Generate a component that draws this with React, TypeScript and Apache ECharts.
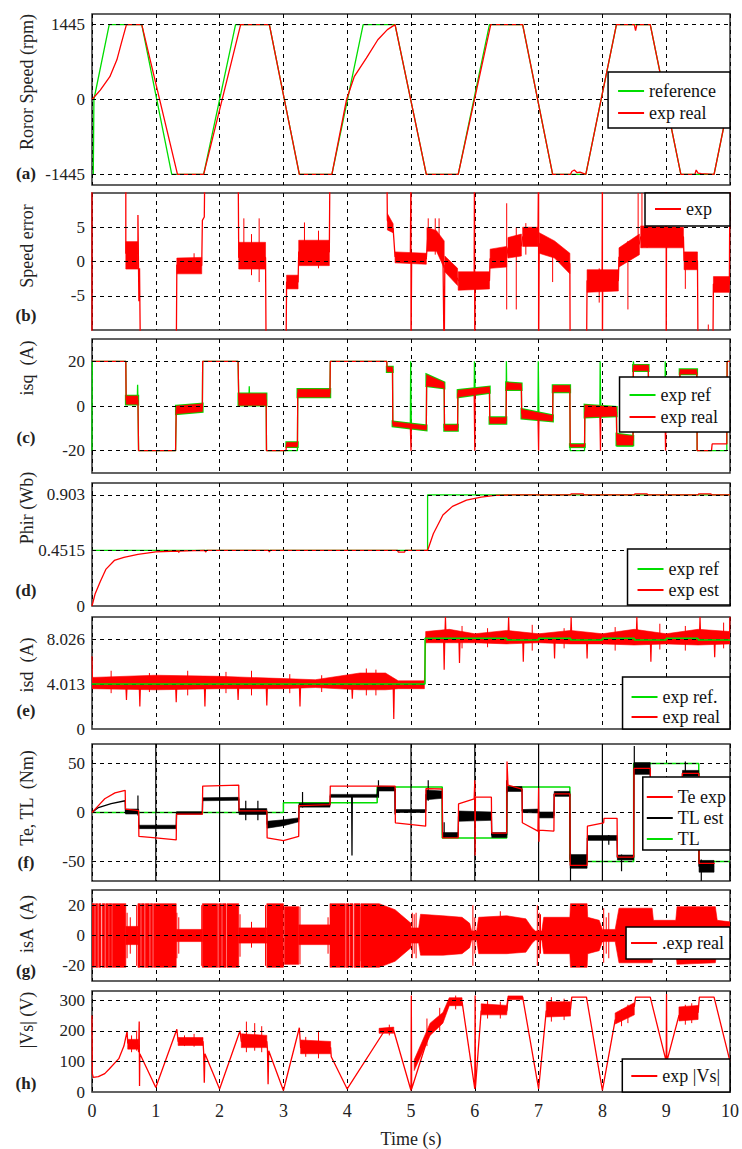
import React, { useEffect, useRef } from "react";
import * as echarts from "echarts";

type P = [number, number];
type Row = [number, number, number];

// ---------- tick labels ----------
const timeTicks = [0, 1, 2, 3, 4, 5, 6, 7, 8, 9, 10];
const speedTicks = [-1445, 0, 1445];
const errTicks = [-5, 0, 5];
const isqTicks = [-20, 0, 20];
const phirTicks = [0, 0.4515, 0.903];
const isdTicks = [0, 4.013, 8.026];
const torqueTicks = [-50, 0, 50];
const isaTicks = [-20, 0, 20];
const vsTicks = [0, 100, 200, 300];

// ---------- (a) rotor speed ----------
const speedRef: P[] = [[0.02,-1445],[0.03,0],[0.27,1445],[0.78,1445],[1.25,-1445],[1.75,-1445],[2.25,1445],[2.78,1445],[3.25,-1445],[3.76,-1445],[4.25,1445],[4.75,1445],[5.24,-1445],[5.74,-1445],[6.23,1445],[6.75,1445],[7.22,-1445],[7.74,-1445],[8.22,1445],[8.75,1445],[9.23,-1445],[9.75,-1445],[10,60]];
const speedReal: P[] = [[0,0],[0.13,181],[0.28,440],[0.39,765],[0.46,1089],[0.54,1445],[0.78,1445],[1.34,-1445],[1.75,-1445],[2.33,1445],[2.78,1445],[3.25,-1445],[3.76,-1445],[3.99,0],[4.11,440],[4.3,797],[4.48,1153],[4.63,1348],[4.75,1445],[5.24,-1445],[5.74,-1445],[6.25,1445],[6.75,1445],[7.22,-1445],[7.5,-1445],[7.52,-1390],[7.56,-1360],[7.6,-1410],[7.65,-1400],[7.74,-1445],[8.22,1445],[8.5,1445],[8.52,1330],[8.54,1445],[8.75,1445],[9.23,-1445],[9.45,-1445],[9.47,-1360],[9.5,-1420],[9.55,-1430],[9.75,-1445],[10,60]];

// ---------- (b) speed error ----------
const errLine: P[] = [[0,-15],[0,15],[0.53,15],[0.53,1.2],[0.72,1.2],[0.72,6.8],[0.735,-5.8],[0.745,-1],[0.76,-15],[1.32,-15],[1.33,-0.5],[1.72,-0.6],[1.73,6],[1.76,6.5],[1.77,15],[2.29,15],[2.3,0.6],[2.72,0.6],[2.73,-15],[3.04,-15],[3.05,-3],[3.23,-3],[3.24,1.4],[3.72,1.4],[3.73,15],[4.62,15],[4.63,6],[4.72,4.8],[4.75,0.7],[4.99,0.6],[5.0,15],[5.0,-15],[5.01,0.4],[5.24,0.4],[5.26,3.2],[5.38,3.0],[5.5,1.5],[5.52,-15],[5.53,-0.5],[5.73,-2.5],[5.74,-2.8],[5.99,-2.8],[5.995,15],[6.0,-15],[6.005,-2.8],[6.23,-2.8],[6.24,0.4],[6.5,0.6],[6.52,2.0],[6.73,2.3],[6.75,3.6],[6.99,3.6],[7.0,15],[7.0,-15],[7.01,2.6],[7.49,-0.3],[7.495,-15],[7.75,-15],[7.76,-2.8],[7.995,-2.8],[8.0,15],[8.0,-15],[8.005,-2.8],[8.25,-2.8],[8.26,0.6],[8.58,2.6],[8.6,3.6],[8.99,3.6],[9.0,15],[9.0,-15],[9.005,3.6],[9.27,3.6],[9.28,0.1],[9.49,0.1],[9.5,-15],[9.73,-15],[9.74,-3.3],[9.99,-3.3],[10,15]];
const errBand: Row[][] = [
  [[0.53,-1.1,2.9],[0.72,-1.1,2.9]],
  [[1.33,-1.8,0.5],[1.72,-1.8,0.6]],
  [[2.3,-1.1,2.8],[2.72,-1.1,2.8]],
  [[3.05,-4,-2],[3.23,-4,-2]],
  [[3.24,-0.6,3.1],[3.72,-0.6,3.1]],
  [[4.63,4.6,7],[4.72,4.2,5.5]],
  [[4.75,-0.2,1.4],[5.24,-0.4,1.2]],
  [[5.25,1.5,5],[5.4,1.5,4.5],[5.52,-1,3]],
  [[5.53,-1.5,0.8],[5.73,-3.5,-1]],
  [[5.74,-4.2,-1.5],[6.23,-4,-1.5]],
  [[6.24,-1,1.8],[6.5,-0.8,2.2]],
  [[6.52,0.5,3.5],[6.73,0.8,4]],
  [[6.75,2.2,5],[6.99,2.2,5]],
  [[7.01,1.2,4.2],[7.25,0.5,3],[7.49,-1.8,1.2]],
  [[7.76,-4.5,-1.2],[8.25,-4.3,-1.2]],
  [[8.26,-0.8,2],[8.58,1,4]],
  [[8.6,2,5.2],[9.27,2,5]],
  [[9.28,-1.2,1.4],[9.49,-1.2,1.4]],
  [[9.74,-4.5,-2.2],[9.99,-4.5,-2.2]],
];
const errSpikes: Row[] = [[2.38,0,6.3],[2.5,-2,4],[2.62,-3,6.3],[3.33,0,5.7],[3.55,-1,4.5],[1.6,-1.5,1.2],[5.27,2,6.3],[5.38,1,6.3],[5.44,2,6.3],[6.5,-7,8.5],[6.65,-7,5],[6.8,1,5.6],[7.22,-3,3],[7.95,-6,-1],[8.4,-7,3],[8.56,2,10],[8.62,2,10],[8.7,2,10],[9.3,-4,0],[9.66,-11,-9.2]];

// ---------- (c) isq ----------
const isqRef: P[] = [[0,-20],[0,-6],[0.005,20],[0.53,20],[0.535,2.7],[0.71,2.7],[0.715,9.5],[0.72,2.7],[0.73,-20],[1.31,-20],[1.32,-1.8],[1.73,-1.0],[1.735,20],[2.29,20],[2.3,2.7],[2.46,2.7],[2.465,8.8],[2.47,2.7],[2.73,2.7],[2.735,-20],[3.22,-20],[3.225,5.8],[3.73,5.8],[3.735,20],[4.62,20],[4.625,16.4],[4.71,16.4],[4.715,-7.9],[4.99,-9],[4.995,20],[5.005,-9.5],[5.24,-10],[5.245,11],[5.52,9],[5.525,-9.8],[5.73,-9.8],[5.735,5.5],[5.99,6.5],[5.995,20],[6.005,6.8],[6.23,7.3],[6.235,-6.5],[6.49,-6.5],[6.495,20],[6.5,8.6],[6.73,8.6],[6.735,-3.3],[6.99,-4],[6.995,20],[7.005,-5.6],[7.22,-5.6],[7.225,7.7],[7.49,7.7],[7.495,-20],[7.72,-20],[7.725,-2.6],[7.96,-3],[7.965,20],[7.975,-2.6],[8.22,-2.6],[8.225,-18],[8.48,-18],[8.485,20],[8.5,17],[8.72,17],[8.725,0],[8.98,0],[8.985,20],[9.0,0],[9.21,0],[9.215,15],[9.48,15],[9.485,-20],[9.95,-20],[9.955,20],[10,20]];
const isqReal: P[] = [[0,20],[0.53,20],[0.535,2.7],[0.72,2.7],[0.73,-20],[1.31,-20],[1.32,-1.8],[1.73,-1.0],[1.735,20],[2.29,20],[2.3,2.7],[2.73,2.7],[2.735,-20],[3.04,-20],[3.05,-17.3],[3.22,-17.3],[3.225,5.8],[3.73,5.8],[3.735,20],[4.62,20],[4.625,16.4],[4.71,16.4],[4.715,-7.9],[4.99,-9],[5.0,-20],[5.005,-9.5],[5.24,-10],[5.245,11],[5.52,9],[5.525,-9.8],[5.73,-9.8],[5.735,5.5],[5.99,6.5],[6.0,-20],[6.005,6.8],[6.23,7.3],[6.235,-6.5],[6.49,-6.5],[6.495,8.6],[6.73,8.6],[6.735,-3.3],[6.99,-4],[7.0,-20],[7.005,-5.6],[7.22,-5.6],[7.225,7.7],[7.49,7.7],[7.495,-17.7],[7.72,-17.7],[7.725,-2.6],[7.96,-3],[7.97,-20],[7.975,-2.6],[8.22,-2.6],[8.225,-15.5],[8.48,-15.5],[8.485,17],[8.72,17],[8.725,0],[8.98,0],[8.99,-20],[9.0,0],[9.21,0],[9.215,15],[9.48,15],[9.485,-20],[9.71,-20],[9.72,-17],[9.95,-17],[9.955,20],[10,20]];
const isqBand: Row[][] = [
  [[0.535,0.8,4.5],[0.72,0.8,4.5]],
  [[1.32,-3.5,0],[1.73,-2.5,1]],
  [[2.3,0.3,5.5],[2.73,0.3,5.5]],
  [[3.05,-18.3,-16.3],[3.22,-18.3,-16.3]],
  [[3.225,4,7.5],[3.73,4,7.5]],
  [[4.625,15.3,17.5],[4.71,15.3,17.5]],
  [[4.715,-9,-7],[5.24,-10.8,-8.8]],
  [[5.245,9,14],[5.52,8,10.5]],
  [[5.525,-11,-8.5],[5.73,-11,-8.5]],
  [[5.735,4,7],[6.23,6,8.6]],
  [[6.235,-7.8,-5.2],[6.49,-7.8,-5.2]],
  [[6.495,7.3,10.5],[6.73,7.3,10]],
  [[6.735,-5.5,-1.5],[7.22,-6.8,-4.3]],
  [[7.225,6.3,9.2],[7.49,6.3,9.2]],
  [[7.495,-18.3,-17.2],[7.72,-18.3,-17.2]],
  [[7.725,-5,0.5],[8.22,-4.5,-0.5]],
  [[8.225,-17.5,-12.5],[8.48,-17.5,-13.5]],
  [[8.485,15.8,18.3],[8.72,15.8,18.3]],
  [[9.215,14.3,16.3],[9.48,14.3,16.3]],
];

// ---------- (d) Phir ----------
const phirRef: P[] = [[0,0.4515],[5.26,0.4515],[5.26,0.903],[10,0.903]];
const phirEst: P[] = [[0,0],[0.05,0.1],[0.13,0.2],[0.22,0.3],[0.35,0.37],[0.5,0.395],[0.72,0.42],[1.0,0.44],[1.35,0.447],[1.36,0.436],[1.37,0.447],[1.6,0.4505],[1.77,0.4515],[1.78,0.438],[1.8,0.4515],[2.77,0.4515],[2.78,0.44],[2.79,0.4515],[4.79,0.4515],[4.8,0.438],[4.9,0.438],[4.91,0.4515],[5.26,0.4515],[5.35,0.588],[5.5,0.74],[5.65,0.81],[5.87,0.86],[6.1,0.886],[6.32,0.9],[6.6,0.903],[7.5,0.903],[7.51,0.912],[7.7,0.912],[7.71,0.903],[8.5,0.903],[8.51,0.912],[8.7,0.912],[8.71,0.903],[9.5,0.903],[9.51,0.912],[9.7,0.912],[9.71,0.903],[10,0.903]];

// ---------- (e) isd ----------
const isdRef: P[] = [[0,4.013],[5.22,4.013],[5.22,8.1],[6.5,8.1],[6.5,7.95],[7.0,7.95],[7.0,8.1],[7.5,8.1],[7.5,7.95],[8.0,7.95],[8.0,8.1],[8.5,8.1],[8.5,7.95],[9.0,7.95],[9.0,8.1],[9.5,8.1],[9.5,7.95],[10,7.95]];
const isdReal: P[] = [[0,6.5],[0.01,4.0],[0.53,4.0],[0.54,2.6],[0.55,4.0],[0.74,4.0],[0.75,2.0],[0.76,4.0],[1.31,4.0],[1.32,2.4],[1.33,4.0],[1.76,4.0],[1.77,2.0],[1.78,4.0],[2.28,4.0],[2.29,2.6],[2.3,4.0],[2.73,4.0],[2.74,2.1],[2.75,4.0],[3.25,4.0],[3.26,2.0],[3.27,4.0],[4.07,4.0],[4.08,2.7],[4.09,4.0],[4.72,4.0],[4.73,0.9],[4.74,4.0],[5.21,4.0],[5.23,8.2],[5.51,8.2],[5.52,5.3],[5.53,8.2],[5.54,10],[5.55,8.2],[5.75,8.2],[5.76,5.9],[5.77,8.2],[6.52,8.2],[6.53,10],[6.54,8.2],[6.75,8.2],[6.76,6.0],[6.77,8.2],[7.24,8.2],[7.25,6.3],[7.26,8.2],[7.5,8.2],[7.51,10],[7.52,8.2],[7.75,8.2],[7.76,6.3],[7.77,8.2],[8.53,8.2],[8.54,10],[8.55,8.2],[8.75,8.2],[8.76,6.0],[8.77,8.2],[9.52,8.2],[9.53,10],[9.54,8.2],[9.75,8.2],[9.76,6.4],[9.77,8.2],[9.99,8.2],[10,10]];
const isdBand: Row[][] = [
  [[0,3.6,4.6],[1,3.5,4.8],[2,3.6,4.7],[3,3.6,4.5],[3.5,3.7,4.4],[4.2,3.5,5.0],[4.6,3.5,5.0],[4.8,3.6,4.3],[5.21,3.6,4.3]],
  [[5.23,7.7,8.7],[5.6,7.7,8.9],[6.0,7.7,8.5],[6.5,7.6,8.8],[7.0,7.7,8.5],[7.5,7.6,8.8],[8.0,7.6,8.5],[8.5,7.5,8.9],[9.0,7.6,8.5],[9.5,7.5,8.9],[10,7.6,8.7]],
];
const isdSpikes: Row[] = [[0.3,3.2,5.2],[0.9,3.3,5.0],[1.5,3.0,5.2],[2.1,3.2,5.1],[2.5,3.0,5.2],[3.1,3.2,4.9],[3.6,3.3,4.8],[4.3,3.0,5.4],[4.45,3.0,5.3],[5.8,7.2,9.2],[6.2,7.3,9.0],[6.9,7.0,9.3],[7.4,7.2,9.0],[8.2,7.0,9.1],[8.9,7.1,9.4],[9.3,7.0,9.2],[9.9,7.2,9.5]];

// ---------- (f) Te, TL ----------
const tlRef: P[] = [[0,0],[3.0,0],[3.0,10],[4.47,10],[4.47,26],[5.49,26],[5.49,-26],[6.5,-26],[6.5,26],[7.49,26],[7.49,-50],[8.49,-50],[8.49,50],[9.51,50],[9.51,-50],[10,-50]];
const teExp: P[] = [[0,0],[0.1,7],[0.2,14],[0.36,20],[0.52,22.7],[0.525,3.5],[0.73,2],[0.735,-24.5],[1.0,-26],[1.32,-28],[1.325,-1.7],[1.73,-1.7],[1.735,27],[2.3,28],[2.305,1.7],[2.74,1.7],[2.745,-26],[3.0,-28.7],[3.24,-24.5],[3.245,7],[3.73,8],[3.735,27],[4.75,27],[4.755,-10.5],[5.23,-14],[5.235,24.5],[5.49,24],[5.495,-26],[5.74,-26],[5.745,8.7],[5.99,14],[6.0,33],[6.005,-44],[6.01,15.7],[6.26,15.7],[6.265,-21],[6.5,-21],[6.505,52],[6.52,28],[6.74,24],[6.745,-10.5],[6.99,-19],[7.0,25],[7.005,-30],[7.01,-18],[7.24,-19],[7.245,19],[7.49,19],[7.495,-54],[7.76,-54],[7.765,-14],[8.02,-10.5],[8.025,-6],[8.23,-6],[8.235,-45.5],[8.49,-45.5],[8.495,45],[8.75,45],[8.755,20],[9.25,20],[9.255,40],[9.51,40],[9.515,-52],[9.76,-52]];
const tlEst: P[] = [[0,0],[0.1,5],[0.3,9],[0.52,12],[0.525,1],[0.73,1],[0.735,-15],[1.32,-15],[1.325,-0.5],[1.73,-0.5],[1.735,13.5],[2.3,14],[2.305,1],[2.74,1],[2.745,-12],[3.0,-10],[3.24,-7],[3.245,7.5],[3.73,7.5],[3.735,17],[4.07,17],[4.075,-44],[4.08,17],[4.47,17],[4.475,24],[4.75,24],[4.755,1.5],[5.23,1.5],[5.235,18.5],[5.49,18.5],[5.495,-23],[5.74,-23],[5.745,-4],[6.26,-4],[6.265,-23],[6.5,-23],[6.505,24],[6.74,24],[6.745,1.5],[7.0,1.5],[7.005,-3],[7.24,-3],[7.245,19],[7.49,19],[7.495,-48],[7.76,-48],[7.765,-26],[8.23,-26],[8.235,-46],[8.49,-46],[8.495,45],[8.75,45],[8.755,20],[9.25,20],[9.255,40],[9.51,40],[9.515,-55],[9.75,-55]];
const tlBand: Row[][] = [
  [[0.525,-1.5,3.5],[0.73,-1.5,3.5]],
  [[0.735,-16.5,-13],[1.32,-16.5,-13]],
  [[1.325,-1.8,0.8],[1.73,-1.8,0.8]],
  [[1.735,12,15],[2.3,12.5,15.5]],
  [[2.305,-2,4],[2.74,-2,4]],
  [[2.745,-16,-9],[3.0,-13.5,-7.5],[3.24,-9.5,-5.5]],
  [[3.245,5.5,9.5],[3.73,5.5,9.5]],
  [[3.735,15.5,18.5],[4.47,15.5,18.5]],
  [[4.475,22,27],[4.75,22,26.5]],
  [[4.755,0,3],[5.23,0,3]],
  [[5.235,13,23],[5.49,14.5,22]],
  [[5.495,-25.5,-20.5],[5.74,-25.5,-20.5]],
  [[5.745,-9,1.5],[6.26,-8,0.5]],
  [[6.265,-25.5,-20.5],[6.5,-25.5,-20.5]],
  [[6.505,21.5,26.5],[6.74,21.5,26.5]],
  [[6.745,0,3],[7.0,-0.5,3.5]],
  [[7.005,-5.5,0.5],[7.24,-5.5,0.5]],
  [[7.245,16.5,21.5],[7.49,16.5,21.5]],
  [[7.495,-57,-43],[7.76,-57,-43]],
  [[7.765,-28.5,-23.5],[8.23,-28.5,-23.5]],
  [[8.235,-48.5,-43.5],[8.49,-48.5,-43.5]],
  [[8.495,39,51],[8.75,39,51]],
  [[9.255,37,43],[9.51,37,43]],
  [[9.515,-61,-49],[9.75,-61,-49]],
];
const tlSpikes: Row[] = [[0.72,-3,17.5],[1.0,-70,70],[2.0,-70,70],[2.41,-8,12],[2.6,-8,12],[3.3,5,21],[4.49,15,33],[4.75,-2,24],[5.0,-70,70],[5.27,12,33],[5.52,-26,-10],[6.0,-70,70],[6.5,20,33],[7.0,-70,70],[7.5,-70,-42],[8.0,-70,70],[8.1,-33,-23],[8.3,-60,-43],[8.5,45,68],[9.3,40,52],[9.55,-70,-48],[10,-70,-50]];

// ---------- (g) isA ----------
const isaBand: Row[][] = [
  [[0,-21,21],[0.04,-21,21]],
  [[0.055,-21,21],[0.09,-21,21]],
  [[0.105,-21,21],[0.14,-21,21]],
  [[0.16,-21,21],[0.2,-21,21]],
  [[0.215,-21,21],[0.26,-21,21]],
  [[0.27,-21,21],[0.31,-21,21]],
  [[0.32,-21,21],[0.53,-21,21]],
  [[0.53,-6,6],[0.72,-6,6]],
  [[0.72,-21,21],[0.76,-21,21]],
  [[0.775,-21,21],[0.82,-21,21]],
  [[0.835,-21,21],[0.9,-21,21]],
  [[0.915,-21,21],[0.95,-21,21]],
  [[0.965,-21,21],[1.32,-21,21]],
  [[1.32,-4,4],[1.73,-4,4]],
  [[1.73,-21,21],[1.97,-21,21]],
  [[1.985,-21,21],[2.03,-21,21]],
  [[2.045,-21,21],[2.1,-21,21]],
  [[2.115,-21,21],[2.3,-21,21]],
  [[2.3,-5,5],[2.74,-5,5]],
  [[2.74,-21,21],[3.0,-21,21]],
  [[3.015,-19,19],[3.24,-19,19]],
  [[3.24,-6,7],[3.73,-6,7]],
  [[3.73,-21,21],[3.97,-21,21]],
  [[3.985,-21,21],[4.03,-21,21]],
  [[4.045,-21,21],[4.09,-21,21]],
  [[4.11,-21,21],[4.2,-21,21]],
  [[4.215,-21,21],[4.5,-21,21],[4.75,-17,17],[5.0,-8,8],[5.0,-5,5],[5.12,-5,5],[5.15,-13,14],[5.5,-13,13],[5.8,-12,12],[5.92,-8,8],[5.95,-3,3],[6.03,-3,3],[6.06,-12,12],[6.5,-12,13],[6.8,-11,11],[6.9,-5,5],[6.95,-3,3],[7.05,-3,3],[7.08,-12,12],[7.49,-12,12],[7.5,-21,21],[7.76,-21,21],[7.77,-12,12],[7.95,-10,10],[8.0,-4,4],[8.2,-4,4],[8.26,-18,18],[8.78,-18,18],[8.8,-10,10],[9.15,-10,10],[9.17,-19,19],[9.77,-18,19],[9.8,-10,10],[10,-9,9]],
];
const isaSpikes: Row[] = [[0.55,-15,15],[0.6,-12,12],[0.7,-20,20],[1.33,-15,15],[1.36,-12,12],[1.72,-20,20],[2.32,-14,14],[2.5,-8,9],[2.72,-20,20],[3.26,-19,19],[3.7,-12,12],[4.2,-17,19],[5.02,-15,15],[5.05,-12,14],[5.08,-15,15],[5.97,-20,20],[6.0,-12,12],[6.4,-10,16],[6.98,-20,20],[7.01,-15,15],[7.03,-12,14],[8.02,-18,18],[8.06,-12,12],[8.1,-15,15]];

// ---------- (h) |Vs| ----------
const vsLine: P[] = [[0,250],[0.005,60],[0.02,48],[0.1,50],[0.2,60],[0.27,75],[0.42,109],[0.5,150],[0.55,198],[0.56,160],[0.72,155],[0.73,130],[0.74,230],[0.745,20],[0.75,125],[1.0,15],[1.33,205],[1.35,165],[1.74,165],[1.75,130],[1.76,30],[1.77,125],[2.0,10],[2.32,200],[2.34,165],[2.74,165],[2.75,140],[2.76,25],[2.77,135],[3.0,5],[3.25,210],[3.27,145],[3.74,145],[3.75,115],[4.0,10],[4.6,205],[4.73,200],[5.0,5],[5.005,315],[5.01,10],[5.3,200],[5.5,240],[5.6,300],[5.8,295],[6.0,10],[6.005,315],[6.01,15],[6.1,265],[6.5,265],[6.52,305],[6.75,310],[7.0,10],[7.12,265],[7.5,270],[7.52,310],[7.75,310],[8.0,5],[8.2,235],[8.5,280],[8.52,310],[8.75,310],[9.0,100],[9.005,320],[9.01,100],[9.2,250],[9.5,260],[9.52,310],[9.75,310],[10,100]];
const vsBand: Row[][] = [
  [[0.56,140,172],[0.73,140,172]],
  [[1.35,152,178],[1.74,152,178]],
  [[2.34,145,190],[2.74,145,185]],
  [[3.27,125,170],[3.74,125,165]],
  [[4.5,192,208],[4.73,192,212]],
  [[5.05,70,105],[5.3,185,225],[5.5,225,260],[5.6,282,308],[5.8,282,308]],
  [[6.1,252,288],[6.5,252,283],[6.52,302,314],[6.75,302,314]],
  [[7.12,245,295],[7.5,248,295]],
  [[8.2,222,258],[8.5,252,292]],
  [[9.2,232,278],[9.5,237,283]],
];
const vsSpikes: Row[] = [[0.62,130,185],[0.7,135,200],[1.45,150,185],[1.6,148,190],[2.42,130,230],[2.55,135,225],[2.66,130,215],[3.35,115,180],[3.55,110,200],[4.66,185,220],[5.25,150,240],[5.45,200,275],[5.7,270,315],[6.2,240,300],[6.4,240,295],[7.2,230,310],[7.4,235,305],[8.3,215,270],[8.4,225,285],[9.3,220,285],[9.4,225,290]];

// ---------- styling ----------
const FONT = "Liberation Serif, Times New Roman, DejaVu Serif, serif";
const RED = "#ff0000";
const GREEN = "#00dd00";
const BLACK = "#000000";

const layout = [
  { top: 14, h: 171, min: -1650, max: 1650, ticks: speedTicks, name: "Roror Speed (rpm)", nameY: 82, letter: "(a)", letterY: 173 },
  { top: 193, h: 137, min: -10, max: 10, ticks: errTicks, name: "Speed error", nameY: 246, letter: "(b)", letterY: 315 },
  { top: 339, h: 134, min: -30, max: 30, ticks: isqTicks, name: "isq  (A)", nameY: 368, letter: "(c)", letterY: 437 },
  { top: 483, h: 123, min: 0, max: 1, ticks: phirTicks, name: "Phir (Wb)", nameY: 508, letter: "(d)", letterY: 590 },
  { top: 617, h: 112, min: 0, max: 10, ticks: isdTicks, name: "isd  (A)", nameY: 665, letter: "(e)", letterY: 710 },
  { top: 744, h: 137, min: -70, max: 70, ticks: torqueTicks, name: "Te, TL  (Nm)", nameY: 798, letter: "(f)", letterY: 862 },
  { top: 890, h: 91, min: -30, max: 30, ticks: isaTicks, name: "isA  (A)", nameY: 924, letter: "(g)", letterY: 970 },
  { top: 991, h: 101, min: 0, max: 330, ticks: vsTicks, name: "|Vs| (V)", nameY: 1020, letter: "(h)", letterY: 1083 },
];

const legendLayout = [
  { items: ["reference", "exp real"], top: 72, padding: [9, 14, 5, 10], gap: 2 },
  { items: ["exp"], top: 193, padding: [6, 18, 7, 10], gap: 2 },
  { items: ["exp ref", "exp real"], top: 377, padding: [8, 12, 5, 10], gap: 2 },
  { items: ["exp ref", "exp est"], top: 549, padding: [10, 11, 5, 10], gap: 1 },
  { items: ["exp ref.", "exp real"], top: 677, padding: [10, 10, 2, 9], gap: 0 },
  { items: ["Te exp", "TL est", "TL"], top: 777, padding: [10, 4, 1, 4], gap: 1 },
  { items: [".exp real"], top: 927, padding: [6, 6, 6, 5], gap: 2 },
  { items: ["exp |Vs|"], top: 1059, padding: [7, 10, 6, 9], gap: 2 },
];

function lineS(name: string, data: any[], gi: number, color: string, width: number, z: number) {
  return {
    type: "line", name, xAxisIndex: gi, yAxisIndex: gi, data, showSymbol: false, symbol: "none",
    lineStyle: { color, width }, itemStyle: { color }, silent: true, z, clip: true, connectNulls: false,
  };
}

function bandS(name: string, segs: Row[][], gi: number, color: string, z: number, strokeW = 0) {
  return {
    type: "custom", name, xAxisIndex: gi, yAxisIndex: gi, silent: true, clip: true, z,
    data: segs.map((s, k) => [s[0][0], s[0][1], k]),
    encode: { x: 0, y: 1 },
    renderItem: (_params: any, api: any) => {
      const seg = segs[api.value(2)];
      const top = seg.map((r) => api.coord([r[0], r[2]]));
      const bot = seg.slice().reverse().map((r) => api.coord([r[0], r[1]]));
      return {
        type: "polygon",
        shape: { points: top.concat(bot) },
        style: { fill: color, stroke: color, lineWidth: strokeW > 0 ? strokeW : 0.6 },
      };
    },
  };
}

function spikeS(name: string, spikes: Row[], gi: number, color: string, width: number, z: number) {
  const data: any[] = [];
  spikes.forEach(([t, lo, hi]) => { data.push([t, lo], [t, hi], [t, null]); });
  return lineS(name, data, gi, color, width, z);
}

function gridHost(gi: number) {
  const L = layout[gi];
  return {
    type: "line", name: "grid" + gi, xAxisIndex: gi, yAxisIndex: gi, data: [], silent: true, z: 1,
    markLine: {
      silent: true, symbol: ["none", "none"], label: { show: false },
      lineStyle: { color: BLACK, type: [4, 4], width: 1 },
      data: L.ticks.filter((v) => v > L.min).map((v) => ({ yAxis: v })),
    },
  };
}

function buildOption() {
  const grid = layout.map((L) => ({
    left: 92, right: 12, top: L.top, height: L.h, show: true,
    borderColor: "#303030", borderWidth: 1.5, backgroundColor: "transparent",
  }));
  const xAxis = layout.map((_L, i) => ({
    type: "value", gridIndex: i, min: timeTicks[0], max: timeTicks[timeTicks.length - 1], interval: 1,
    axisLine: { show: false }, axisTick: { show: false },
    axisLabel: { show: i === 7, fontFamily: FONT, fontSize: 18, color: "#222", margin: 10 },
    splitLine: { show: true, lineStyle: { color: BLACK, type: [4, 4], width: 1 } },
    name: i === 7 ? "Time (s)" : "", nameLocation: "middle", nameGap: 38,
    nameTextStyle: { fontFamily: FONT, fontSize: 18, color: "#222" },
  }));
  const yAxis = layout.map((L, i) => ({
    type: "value", gridIndex: i, min: L.min, max: L.max,
    axisLine: { show: false }, axisTick: { show: false }, splitLine: { show: false },
    axisLabel: {
      customValues: L.ticks, formatter: (v: number) => String(v),
      fontFamily: FONT, fontSize: 17, color: "#222", margin: 7,
    },
  }));

  const series: any[] = [];
  layout.forEach((_L, i) => series.push(gridHost(i)));

  // (a)
  series.push(lineS("reference", speedRef, 0, GREEN, 1.3, 3));
  series.push(lineS("exp real", speedReal, 0, RED, 1.3, 4));
  // (b)
  series.push(bandS("b-band", errBand, 1, RED, 3));
  series.push(spikeS("b-spikes", errSpikes, 1, RED, 1, 3));
  series.push(lineS("exp", errLine, 1, RED, 1.3, 4));
  // (c)
  series.push(bandS("c-band-ref", isqBand, 2, GREEN, 3, 2.5));
  series.push(lineS("exp ref", isqRef, 2, GREEN, 1.3, 3));
  series.push(bandS("c-band", isqBand, 2, RED, 4));
  series.push(lineS("exp real", isqReal, 2, RED, 1.3, 4));
  // (d)
  series.push(lineS("exp ref", phirRef, 3, GREEN, 1.3, 3));
  series.push(lineS("exp est", phirEst, 3, RED, 1.3, 4));
  // (e)
  series.push(bandS("e-band", isdBand, 4, RED, 3));
  series.push(spikeS("e-spikes", isdSpikes, 4, RED, 1, 3));
  series.push(lineS("exp real", isdReal, 4, RED, 1.2, 3));
  series.push(lineS("exp ref.", isdRef, 4, GREEN, 1.5, 5));
  // (f)
  series.push(lineS("TL", tlRef, 5, GREEN, 1.5, 3));
  series.push(bandS("f-band", tlBand, 5, BLACK, 4));
  series.push(spikeS("f-spikes", tlSpikes, 5, BLACK, 1.2, 4));
  series.push(lineS("TL est", tlEst, 5, BLACK, 1.3, 4));
  series.push(lineS("Te exp", teExp, 5, RED, 1.3, 5));
  // (g)
  series.push(bandS("g-band", isaBand, 6, RED, 3));
  series.push(spikeS(".exp real", isaSpikes, 6, RED, 1, 4));
  // (h)
  series.push(bandS("h-band", vsBand, 7, RED, 3));
  series.push(spikeS("h-spikes", vsSpikes, 7, RED, 1, 3));
  series.push(lineS("exp |Vs|", vsLine, 7, RED, 1.3, 4));

  const legend = legendLayout.map((lg) => ({
    data: lg.items, top: lg.top, right: 12, orient: "vertical",
    backgroundColor: "#fff", borderColor: BLACK, borderWidth: 1.5, borderRadius: 0,
    padding: lg.padding, itemGap: lg.gap, icon: "rect", itemWidth: 26, itemHeight: 2,
    selectedMode: false, z: 10,
    textStyle: { fontFamily: FONT, fontSize: 18, color: "#111", lineHeight: 20 },
  }));

  const graphic: any[] = [];
  layout.forEach((L) => {
    graphic.push({
      type: "text", x: 27, y: L.nameY, rotation: Math.PI / 2, silent: true,
      style: { text: L.name, fontFamily: FONT, fontSize: 18, fill: "#222", textAlign: "center", textVerticalAlign: "middle" },
    });
    graphic.push({
      type: "text", x: 26, y: L.letterY, silent: true,
      style: { text: L.letter, fontFamily: FONT, fontSize: 17, fontWeight: "bold", fill: "#222", textAlign: "center", textVerticalAlign: "middle" },
    });
  });

  return { animation: false, backgroundColor: "#fff", grid, xAxis, yAxis, series, legend, graphic };
}

export default function App() {
  const ref = useRef<HTMLDivElement>(null);
  useEffect(() => {
    const chart = echarts.init(ref.current as HTMLDivElement, null, { renderer: "svg" });
    chart.setOption(buildOption() as any);
    return () => chart.dispose();
  }, []);
  return (
    <div
      ref={ref}
      style={{ position: "absolute", left: 0, top: 0, width: 742, height: 1149, background: "#fff" }}
    />
  );
}
